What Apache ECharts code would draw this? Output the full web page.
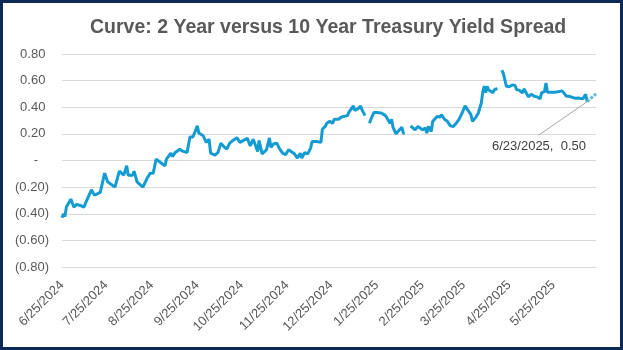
<!DOCTYPE html>
<html>
<head>
<meta charset="utf-8">
<script src="https://cdn.jsdelivr.net/npm/echarts@6/dist/echarts.min.js"></script>
<style>
  html, body { margin: 0; padding: 0; background: #ffffff; }
  #wrap { position: relative; width: 623px; height: 350px; }
  #chart { position: absolute; left: 0; top: 0; width: 623px; height: 350px; }
  #frame { position: absolute; left: 0; top: 0; width: 623px; height: 350px; box-sizing: border-box; border: 3px solid #0d2a57; pointer-events: none; }
</style>
</head>
<body>
<div id="wrap"><div id="chart"></div><div id="frame"></div></div>
<script>
const titleText = 'Curve: 2 Year versus 10 Year Treasury Yield Spread';

const dates = [
  '2024-06-25','2024-06-26','2024-06-27','2024-06-28','2024-07-01','2024-07-03','2024-07-05','2024-07-08','2024-07-10','2024-07-11',
  '2024-07-15','2024-07-17','2024-07-19','2024-07-21','2024-07-24','2024-07-26','2024-07-31','2024-08-03','2024-08-06','2024-08-08',
  '2024-08-09','2024-08-12','2024-08-13','2024-08-15','2024-08-19','2024-08-22','2024-08-24','2024-08-26','2024-08-28','2024-08-31',
  '2024-09-03','2024-09-04','2024-09-07','2024-09-08','2024-09-10','2024-09-13','2024-09-15','2024-09-18','2024-09-20','2024-09-22',
  '2024-09-25','2024-09-26','2024-09-29','2024-10-01','2024-10-03','2024-10-04','2024-10-07','2024-10-09','2024-10-11','2024-10-13',
  '2024-10-15','2024-10-17','2024-10-19','2024-10-22','2024-10-24','2024-10-27','2024-10-29','2024-10-31','2024-11-02','2024-11-03',
  '2024-11-05','2024-11-06','2024-11-08','2024-11-11','2024-11-13','2024-11-14','2024-11-16','2024-11-18','2024-11-20','2024-11-22',
  '2024-11-24','2024-11-26','2024-11-27','2024-11-30','2024-12-02','2024-12-04','2024-12-05','2024-12-07','2024-12-09','2024-12-11',
  '2024-12-12','2024-12-15','2024-12-18','2024-12-19','2024-12-21','2024-12-22','2024-12-24','2024-12-26','2024-12-27','2024-12-30',
  '2025-01-01','2025-01-02','2025-01-05','2025-01-06','2025-01-09','2025-01-10','2025-01-12','2025-01-14','2025-01-15','2025-01-16',
  '2025-01-17','2025-01-18','2025-01-20','2025-01-21','2025-01-23','2025-01-25','2025-01-28','2025-01-29','2025-01-31','2025-02-01',
  '2025-02-03','2025-02-04','2025-02-05','2025-02-07','2025-02-09','2025-02-11','2025-02-12','2025-02-13','2025-02-15','2025-02-17',
  '2025-02-20','2025-02-22','2025-02-23','2025-02-25','2025-02-27','2025-02-28','2025-03-01','2025-03-03','2025-03-04','2025-03-07',
  '2025-03-09','2025-03-10','2025-03-12','2025-03-14','2025-03-16','2025-03-18','2025-03-20','2025-03-22','2025-03-23','2025-03-24',
  '2025-03-26','2025-03-28','2025-03-30','2025-03-31','2025-04-02','2025-04-04','2025-04-05','2025-04-06','2025-04-07','2025-04-08',
  '2025-04-09','2025-04-10','2025-04-11','2025-04-12','2025-04-14','2025-04-15','2025-04-17','2025-04-18','2025-04-20','2025-04-21',
  '2025-04-23','2025-04-25','2025-04-27','2025-04-29','2025-04-30','2025-05-02','2025-05-04','2025-05-05','2025-05-07','2025-05-08',
  '2025-05-10','2025-05-12','2025-05-13','2025-05-14','2025-05-16','2025-05-17','2025-05-19','2025-05-20','2025-05-21','2025-05-23',
  '2025-05-26','2025-05-29','2025-05-31','2025-06-01','2025-06-03','2025-06-05','2025-06-06','2025-06-09','2025-06-11','2025-06-12',
  '2025-06-14','2025-06-15','2025-06-16','2025-06-17'
];

const spread = [
  -0.43,-0.40,-0.42,-0.35,-0.29,-0.35,-0.33,-0.34,-0.35,-0.32,
  -0.22,-0.26,-0.25,-0.24,-0.095,-0.16,-0.20,-0.08,-0.11,-0.04,
  -0.11,-0.11,-0.08,-0.16,-0.20,-0.13,-0.095,-0.095,0.01,-0.015,
  -0.04,0.01,0.055,0.03,0.06,0.085,0.07,0.06,0.176,0.176,
  0.26,0.206,0.186,0.136,0.16,0.055,0.04,0.06,0.13,0.105,
  0.086,0.13,0.15,0.17,0.136,0.155,0.166,0.11,0.16,0.145,
  0.068,0.15,0.05,0.08,0.17,0.10,0.126,0.13,0.086,0.055,
  0.043,0.08,0.07,0.05,0.018,0.055,0.018,0.06,0.05,0.093,
  0.143,0.143,0.136,0.236,0.256,0.28,0.294,0.28,0.31,0.31,
  0.327,0.316,0.337,0.362,0.41,0.377,0.387,0.41,0.38,0.37,
  0.337,null,0.28,0.31,0.36,0.36,0.357,0.36,0.337,0.35,
  0.28,0.31,0.25,0.20,0.226,0.25,0.206,0.205,null,0.26,
  0.23,0.256,0.27,0.23,0.244,0.206,0.256,0.218,0.294,0.33,
  0.327,0.344,0.31,0.294,0.26,0.256,0.28,0.31,0.30,0.357,
  0.41,0.377,0.344,0.294,0.32,0.357,0.37,0.43,0.51,0.56,
  0.51,0.558,0.53,0.538,0.51,0.533,0.54,null,0.678,0.655,
  0.56,0.553,0.568,0.563,0.533,0.527,0.507,0.538,0.50,0.478,
  0.497,0.482,0.495,0.478,0.463,0.508,0.518,0.583,0.512,0.512,
  0.512,0.518,0.523,0.518,0.482,0.482,0.478,0.467,0.47,0.463,
  0.463,0.478,0.497,0.442
];

const lastDates = ['2025-06-17', '2025-06-23'];
const lastValues = [0.442, 0.50];

// callout leader end (data space, just above the callout text)
const leaderEndDate = '2025-05-15';
const leaderEndValue = 0.19;

const tickDates = ['2024-06-25','2024-07-25','2024-08-25','2024-09-25','2024-10-25','2024-11-25',
  '2024-12-25','2025-01-25','2025-02-25','2025-03-25','2025-04-25','2025-05-25'];

const axisStart = '2024-06-25';
const axisEnd = '2025-06-23';

function ts(s) { const p = s.split('-').map(Number); return Date.UTC(p[0], p[1] - 1, p[2]); }
function fmtDate(v) { const d = new Date(v); return (d.getUTCMonth() + 1) + '/' + d.getUTCDate() + '/' + d.getUTCFullYear(); }
function fmtNum(v) {
  const r = Math.round(v * 100) / 100;
  if (Math.abs(r) < 1e-9) return '-   ';
  if (r < 0) return '(' + Math.abs(r).toFixed(2) + ')';
  return r.toFixed(2) + ' ';
}

const FONT = 'Arial';

const mainData = dates.map((d, i) => [ts(d), spread[i]]);
const lastData = lastDates.map((d, i) => ({
  value: [ts(d), lastValues[i]],
  label: { show: i === lastDates.length - 1 }
}));

const chart = echarts.init(document.getElementById('chart'), null, { renderer: 'canvas' });
chart.setOption({
  animation: false,
  backgroundColor: '#ffffff',
  graphic: [
    {
      type: 'text',
      left: 90,
      top: 18,
      style: {
        text: titleText,
        fontSize: 19.5,
        fontWeight: 'bold',
        fontFamily: 'Liberation Sans',
        fill: '#595959'
      }
    }
  ],
  grid: { left: 62, right: 27, top: 54, bottom: 83, containLabel: false },
  xAxis: {
    type: 'value',
    min: ts(axisStart),
    max: ts(axisEnd),
    axisLine: { show: true, onZero: false, lineStyle: { color: '#d9d9d9' } },
    axisTick: { show: false },
    splitLine: { show: false },
    axisLabel: {
      customValues: tickDates.map(ts),
      formatter: (v) => fmtDate(v),
      rotate: 45,
      color: '#595959',
      fontSize: 13,
      margin: 16,
      hideOverlap: false,
      fontFamily: FONT
    }
  },
  yAxis: {
    type: 'value',
    min: -0.8,
    max: 0.8,
    interval: 0.2,
    axisLine: { show: false },
    axisTick: { show: false },
    splitLine: { show: true, lineStyle: { color: '#d9d9d9', width: 1 } },
    axisLabel: {
      formatter: fmtNum,
      color: '#595959',
      fontSize: 13,
      margin: 13,
      fontFamily: FONT
    }
  },
  series: [
    {
      type: 'line',
      data: mainData,
      showSymbol: false,
      connectNulls: false,
      lineStyle: { color: '#149bd2', width: 3 },
      itemStyle: { color: '#149bd2' },
      z: 3
    },
    {
      type: 'line',
      data: lastData,
      showSymbol: true,
      symbol: 'circle',
      symbolSize: 1,
      lineStyle: { color: '#5cb8e0', width: 3, type: [3, 1.5] },
      itemStyle: { color: '#5cb8e0' },
      label: {
        position: 'inside',
        formatter: (p) => fmtDate(p.value[0]) + ',  ' + p.value[1].toFixed(2),
        color: '#404040',
        fontSize: 13,
        fontFamily: FONT
      },
      labelLayout: { dx: -57, dy: 52 },
      markLine: {
        silent: true,
        symbol: 'none',
        label: { show: false },
        lineStyle: { color: '#a6a6a6', width: 1, type: 'solid' },
        data: [[
          { coord: [ts(lastDates[0]), lastValues[0]] },
          { coord: [ts(leaderEndDate), leaderEndValue] }
        ]]
      },
      z: 4
    }
  ]
});
</script>
</body>
</html>
